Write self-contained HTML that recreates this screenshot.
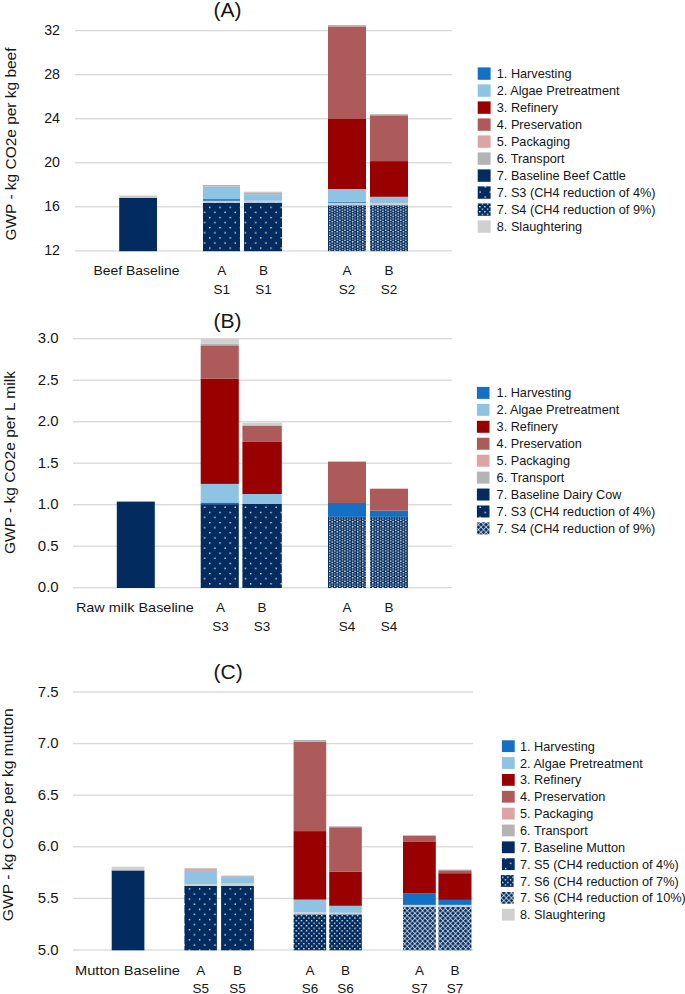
<!DOCTYPE html>
<html><head><meta charset="utf-8"><title>GWP charts</title>
<style>
html,body{margin:0;padding:0;background:#ffffff;}
body{width:685px;height:994px;overflow:hidden;}
svg{display:block;}
svg text{font-family:"Liberation Sans", sans-serif;fill:#161616;}
</style></head><body>
<svg width="685" height="994" viewBox="0 0 685 994">
<rect width="685" height="994" fill="#ffffff"/>
<defs><pattern id="p3A" patternUnits="userSpaceOnUse" width="10.2" height="10.2" x="5.15" y="2.65">
   <rect width="10.2" height="10.2" fill="#022c5f"/>
   <rect x="0" y="0" width="1.3" height="1.3" fill="#ffffff"/>
   <rect x="5.1" y="5.1" width="1.3" height="1.3" fill="#ffffff"/>
 </pattern>
<pattern id="p3B" patternUnits="userSpaceOnUse" width="10.2" height="10.2" x="5.15" y="1.75">
   <rect width="10.2" height="10.2" fill="#022c5f"/>
   <rect x="0" y="0" width="1.3" height="1.3" fill="#ffffff"/>
   <rect x="5.1" y="5.1" width="1.3" height="1.3" fill="#ffffff"/>
 </pattern>
<pattern id="p3C" patternUnits="userSpaceOnUse" width="10.2" height="10.2" x="5.15" y="0.85">
   <rect width="10.2" height="10.2" fill="#022c5f"/>
   <rect x="0" y="0" width="1.3" height="1.3" fill="#ffffff"/>
   <rect x="5.1" y="5.1" width="1.3" height="1.3" fill="#ffffff"/>
 </pattern>
<pattern id="p4A" patternUnits="userSpaceOnUse" width="5.08" height="5.08" x="1.32" y="2.36">
   <rect width="5.08" height="5.08" fill="#022c5f"/>
   <rect x="0" y="0" width="1.4" height="1.4" fill="#ffffff"/>
   <rect x="0" y="2.54" width="1.4" height="1.4" fill="#ffffff" opacity="0.75"/>
   <rect x="2.54" y="1.27" width="1.4" height="1.4" fill="#ffffff" opacity="0.6"/>
   <rect x="2.54" y="3.81" width="1.4" height="1.4" fill="#ffffff" opacity="0.9"/>
 </pattern>
<pattern id="p4B" patternUnits="userSpaceOnUse" width="5.08" height="5.08" x="1.3" y="2.9">
   <rect width="5.08" height="5.08" fill="#022c5f"/>
   <rect x="0" y="0" width="1.4" height="1.4" fill="#ffffff"/>
   <rect x="0" y="2.54" width="1.4" height="1.4" fill="#ffffff" opacity="0.75"/>
   <rect x="2.54" y="1.27" width="1.4" height="1.4" fill="#ffffff" opacity="0.6"/>
   <rect x="2.54" y="3.81" width="1.4" height="1.4" fill="#ffffff" opacity="0.9"/>
 </pattern>
<pattern id="p6" patternUnits="userSpaceOnUse" width="5.1" height="5.1" x="2.35" y="4.55">
   <rect width="5.1" height="5.1" fill="#022c5f"/>
   <rect x="0" y="0" width="1.3" height="1.3" fill="#ffffff"/>
   <rect x="2.55" y="2.55" width="1.3" height="1.3" fill="#ffffff"/>
 </pattern>
<pattern id="p7" patternUnits="userSpaceOnUse" width="5.08" height="5.08" x="0.9" y="3.9">
   <rect width="5.08" height="5.08" fill="#d3dbe8"/>
   <path d="M-2.00,0.00 L0.00,-2.00 L2.00,0.00 L0.00,2.00 Z M3.08,0.00 L5.08,-2.00 L7.08,0.00 L5.08,2.00 Z M-2.00,5.08 L0.00,3.08 L2.00,5.08 L0.00,7.08 Z M3.08,5.08 L5.08,3.08 L7.08,5.08 L5.08,7.08 Z M0.54,2.54 L2.54,0.54 L4.54,2.54 L2.54,4.54 Z " fill="#022c5f"/>
 </pattern></defs>
<rect x="75.00" y="250.25" width="377.00" height="1.30" fill="#d9d9d9"/>
<text x="60.00" y="254.80" font-size="15" text-anchor="end"  textLength="15.8" lengthAdjust="spacingAndGlyphs">12</text>
<rect x="75.00" y="206.20" width="377.00" height="1.30" fill="#d9d9d9"/>
<text x="60.00" y="210.75" font-size="15" text-anchor="end"  textLength="15.8" lengthAdjust="spacingAndGlyphs">16</text>
<rect x="75.00" y="162.15" width="377.00" height="1.30" fill="#d9d9d9"/>
<text x="60.00" y="166.70" font-size="15" text-anchor="end"  textLength="15.8" lengthAdjust="spacingAndGlyphs">20</text>
<rect x="75.00" y="118.10" width="377.00" height="1.30" fill="#d9d9d9"/>
<text x="60.00" y="122.65" font-size="15" text-anchor="end"  textLength="15.8" lengthAdjust="spacingAndGlyphs">24</text>
<rect x="75.00" y="74.05" width="377.00" height="1.30" fill="#d9d9d9"/>
<text x="60.00" y="78.60" font-size="15" text-anchor="end"  textLength="15.8" lengthAdjust="spacingAndGlyphs">28</text>
<rect x="75.00" y="30.00" width="377.00" height="1.30" fill="#d9d9d9"/>
<text x="60.00" y="34.55" font-size="15" text-anchor="end"  textLength="15.8" lengthAdjust="spacingAndGlyphs">32</text>
<text x="227.40" y="16.70" font-size="21" text-anchor="middle" >(A)</text>
<text x="0" y="0" font-size="15" text-anchor="middle" textLength="193" lengthAdjust="spacingAndGlyphs" transform="translate(16.20,144.00) rotate(-90)">GWP - kg CO2e per kg beef</text>
<rect x="119.20" y="197.70" width="37.80" height="53.50" fill="#022c5f"/>
<rect x="119.20" y="195.50" width="37.80" height="2.20" fill="#d0d0d0"/>
<rect x="203.00" y="202.60" width="37.00" height="48.60" fill="url(#p3A)"/>
<rect x="203.00" y="200.80" width="37.00" height="1.80" fill="#d0d0d0"/>
<rect x="203.00" y="199.10" width="37.00" height="1.70" fill="#1470c4"/>
<rect x="203.00" y="186.60" width="37.00" height="12.50" fill="#8ec3e4"/>
<rect x="203.00" y="185.00" width="37.00" height="1.60" fill="#b4b4b4"/>
<rect x="244.00" y="202.60" width="38.00" height="48.60" fill="url(#p3A)"/>
<rect x="244.00" y="200.80" width="38.00" height="1.80" fill="#d0d0d0"/>
<rect x="244.00" y="194.10" width="38.00" height="6.70" fill="#8ec3e4"/>
<rect x="244.00" y="192.50" width="38.00" height="1.60" fill="#dca4a4"/>
<rect x="244.00" y="191.80" width="38.00" height="0.70" fill="#b4b4b4"/>
<rect x="328.00" y="205.20" width="38.00" height="46.00" fill="url(#p4A)"/>
<rect x="328.00" y="202.80" width="38.00" height="2.40" fill="#d0d0d0"/>
<rect x="328.00" y="201.70" width="38.00" height="1.10" fill="#1470c4"/>
<rect x="328.00" y="189.00" width="38.00" height="12.70" fill="#8ec3e4"/>
<rect x="328.00" y="119.00" width="38.00" height="70.00" fill="#990000"/>
<rect x="328.00" y="26.40" width="38.00" height="92.60" fill="#ac5a5a"/>
<rect x="328.00" y="25.10" width="38.00" height="1.30" fill="#b4b4b4"/>
<rect x="370.00" y="205.20" width="38.00" height="46.00" fill="url(#p4A)"/>
<rect x="370.00" y="203.10" width="38.00" height="2.10" fill="#d0d0d0"/>
<rect x="370.00" y="196.80" width="38.00" height="6.30" fill="#8ec3e4"/>
<rect x="370.00" y="161.10" width="38.00" height="35.70" fill="#990000"/>
<rect x="370.00" y="115.30" width="38.00" height="45.80" fill="#ac5a5a"/>
<rect x="370.00" y="114.20" width="38.00" height="1.10" fill="#b4b4b4"/>
<text x="136.40" y="274.90" font-size="13.5" text-anchor="middle"  textLength="86" lengthAdjust="spacingAndGlyphs">Beef Baseline</text>
<text x="221.80" y="274.90" font-size="13.5" text-anchor="middle" >A</text>
<text x="221.80" y="293.60" font-size="13.5" text-anchor="middle" >S1</text>
<text x="263.60" y="274.90" font-size="13.5" text-anchor="middle" >B</text>
<text x="263.60" y="293.60" font-size="13.5" text-anchor="middle" >S1</text>
<text x="347.00" y="274.90" font-size="13.5" text-anchor="middle" >A</text>
<text x="347.00" y="293.60" font-size="13.5" text-anchor="middle" >S2</text>
<text x="389.00" y="274.90" font-size="13.5" text-anchor="middle" >B</text>
<text x="389.00" y="293.60" font-size="13.5" text-anchor="middle" >S2</text>
<rect x="477.70" y="67.40" width="12.90" height="12.40" fill="#1470c4"/>
<text x="496.80" y="78.10" font-size="12.7" text-anchor="start" >1. Harvesting</text>
<rect x="477.70" y="84.40" width="12.90" height="12.40" fill="#8ec3e4"/>
<text x="496.80" y="95.10" font-size="12.7" text-anchor="start" >2. Algae Pretreatment</text>
<rect x="477.70" y="101.40" width="12.90" height="12.40" fill="#990000"/>
<text x="496.80" y="112.10" font-size="12.7" text-anchor="start" >3. Refinery</text>
<rect x="477.70" y="118.40" width="12.90" height="12.40" fill="#ac5a5a"/>
<text x="496.80" y="129.10" font-size="12.7" text-anchor="start" >4. Preservation</text>
<rect x="477.70" y="135.40" width="12.90" height="12.40" fill="#dca4a4"/>
<text x="496.80" y="146.10" font-size="12.7" text-anchor="start" >5. Packaging</text>
<rect x="477.70" y="152.40" width="12.90" height="12.40" fill="#b4b4b4"/>
<text x="496.80" y="163.10" font-size="12.7" text-anchor="start" >6. Transport</text>
<rect x="477.70" y="169.40" width="12.90" height="12.40" fill="#022c5f"/>
<text x="496.80" y="180.10" font-size="12.7" text-anchor="start" >7. Baseline Beef Cattle</text>
<rect x="477.70" y="186.40" width="12.90" height="12.40" fill="url(#p3A)"/>
<text x="496.80" y="197.10" font-size="12.7" text-anchor="start" >7. S3 (CH4 reduction of 4%)</text>
<rect x="477.70" y="203.40" width="12.90" height="12.40" fill="url(#p6)"/>
<text x="496.80" y="214.10" font-size="12.7" text-anchor="start" >7. S4 (CH4 reduction of 9%)</text>
<rect x="477.70" y="220.40" width="12.90" height="12.40" fill="#d0d0d0"/>
<text x="496.80" y="231.10" font-size="12.7" text-anchor="start" >8. Slaughtering</text>
<rect x="73.00" y="587.05" width="379.00" height="1.30" fill="#d9d9d9"/>
<text x="58.70" y="592.20" font-size="15" text-anchor="end" >0.0</text>
<rect x="73.00" y="545.55" width="379.00" height="1.30" fill="#d9d9d9"/>
<text x="58.70" y="550.70" font-size="15" text-anchor="end" >0.5</text>
<rect x="73.00" y="504.05" width="379.00" height="1.30" fill="#d9d9d9"/>
<text x="58.70" y="509.20" font-size="15" text-anchor="end" >1.0</text>
<rect x="73.00" y="462.55" width="379.00" height="1.30" fill="#d9d9d9"/>
<text x="58.70" y="467.70" font-size="15" text-anchor="end" >1.5</text>
<rect x="73.00" y="421.05" width="379.00" height="1.30" fill="#d9d9d9"/>
<text x="58.70" y="426.20" font-size="15" text-anchor="end" >2.0</text>
<rect x="73.00" y="379.55" width="379.00" height="1.30" fill="#d9d9d9"/>
<text x="58.70" y="384.70" font-size="15" text-anchor="end" >2.5</text>
<rect x="73.00" y="338.05" width="379.00" height="1.30" fill="#d9d9d9"/>
<text x="58.70" y="343.20" font-size="15" text-anchor="end" >3.0</text>
<text x="227.40" y="327.50" font-size="21" text-anchor="middle" >(B)</text>
<text x="0" y="0" font-size="15" text-anchor="middle" textLength="183" lengthAdjust="spacingAndGlyphs" transform="translate(14.50,462.60) rotate(-90)">GWP - kg CO2e per L milk</text>
<rect x="116.80" y="501.60" width="38.00" height="86.40" fill="#022c5f"/>
<rect x="200.70" y="504.20" width="38.10" height="83.80" fill="url(#p3B)"/>
<rect x="200.70" y="502.50" width="38.10" height="1.70" fill="#1470c4"/>
<rect x="200.70" y="483.90" width="38.10" height="18.60" fill="#8ec3e4"/>
<rect x="200.70" y="378.80" width="38.10" height="105.10" fill="#990000"/>
<rect x="200.70" y="345.30" width="38.10" height="33.50" fill="#ac5a5a"/>
<rect x="200.70" y="343.90" width="38.10" height="1.40" fill="#b4b4b4"/>
<rect x="200.70" y="338.60" width="38.10" height="5.30" fill="#d0d0d0"/>
<rect x="242.40" y="504.00" width="39.40" height="84.00" fill="url(#p3B)"/>
<rect x="242.40" y="494.00" width="39.40" height="10.00" fill="#8ec3e4"/>
<rect x="242.40" y="441.90" width="39.40" height="52.10" fill="#990000"/>
<rect x="242.40" y="425.50" width="39.40" height="16.40" fill="#ac5a5a"/>
<rect x="242.40" y="422.60" width="39.40" height="2.90" fill="#d0d0d0"/>
<rect x="328.00" y="516.90" width="38.00" height="71.10" fill="url(#p4B)"/>
<rect x="328.00" y="503.00" width="38.00" height="13.90" fill="#1470c4"/>
<rect x="328.00" y="461.60" width="38.00" height="41.40" fill="#ac5a5a"/>
<rect x="370.00" y="516.90" width="38.00" height="71.10" fill="url(#p4B)"/>
<rect x="370.00" y="510.60" width="38.00" height="6.30" fill="#1470c4"/>
<rect x="370.00" y="488.70" width="38.00" height="21.90" fill="#ac5a5a"/>
<text x="134.90" y="612.30" font-size="13.5" text-anchor="middle"  textLength="118" lengthAdjust="spacingAndGlyphs">Raw milk Baseline</text>
<text x="220.40" y="612.30" font-size="13.5" text-anchor="middle" >A</text>
<text x="220.40" y="631.00" font-size="13.5" text-anchor="middle" >S3</text>
<text x="262.00" y="612.30" font-size="13.5" text-anchor="middle" >B</text>
<text x="262.00" y="631.00" font-size="13.5" text-anchor="middle" >S3</text>
<text x="347.00" y="612.30" font-size="13.5" text-anchor="middle" >A</text>
<text x="347.00" y="631.00" font-size="13.5" text-anchor="middle" >S4</text>
<text x="389.00" y="612.30" font-size="13.5" text-anchor="middle" >B</text>
<text x="389.00" y="631.00" font-size="13.5" text-anchor="middle" >S4</text>
<rect x="476.90" y="386.90" width="12.60" height="12.00" fill="#1470c4"/>
<text x="496.60" y="397.40" font-size="12.7" text-anchor="start" >1. Harvesting</text>
<rect x="476.90" y="403.84" width="12.60" height="12.00" fill="#8ec3e4"/>
<text x="496.60" y="414.34" font-size="12.7" text-anchor="start" >2. Algae Pretreatment</text>
<rect x="476.90" y="420.78" width="12.60" height="12.00" fill="#990000"/>
<text x="496.60" y="431.28" font-size="12.7" text-anchor="start" >3. Refinery</text>
<rect x="476.90" y="437.72" width="12.60" height="12.00" fill="#ac5a5a"/>
<text x="496.60" y="448.22" font-size="12.7" text-anchor="start" >4. Preservation</text>
<rect x="476.90" y="454.66" width="12.60" height="12.00" fill="#dca4a4"/>
<text x="496.60" y="465.16" font-size="12.7" text-anchor="start" >5. Packaging</text>
<rect x="476.90" y="471.60" width="12.60" height="12.00" fill="#b4b4b4"/>
<text x="496.60" y="482.10" font-size="12.7" text-anchor="start" >6. Transport</text>
<rect x="476.90" y="488.54" width="12.60" height="12.00" fill="#022c5f"/>
<text x="496.60" y="499.04" font-size="12.7" text-anchor="start" >7. Baseline Dairy Cow</text>
<rect x="476.90" y="505.48" width="12.60" height="12.00" fill="url(#p3B)"/>
<text x="496.60" y="515.98" font-size="12.7" text-anchor="start" >7. S3 (CH4 reduction of 4%)</text>
<rect x="476.90" y="522.42" width="12.60" height="12.00" fill="url(#p7)"/>
<text x="496.60" y="532.92" font-size="12.7" text-anchor="start" >7. S4 (CH4 reduction of 9%)</text>
<rect x="73.00" y="949.35" width="400.00" height="1.30" fill="#d9d9d9"/>
<text x="58.70" y="954.50" font-size="15" text-anchor="end" >5.0</text>
<rect x="73.00" y="897.75" width="400.00" height="1.30" fill="#d9d9d9"/>
<text x="58.70" y="902.90" font-size="15" text-anchor="end" >5.5</text>
<rect x="73.00" y="846.15" width="400.00" height="1.30" fill="#d9d9d9"/>
<text x="58.70" y="851.30" font-size="15" text-anchor="end" >6.0</text>
<rect x="73.00" y="794.55" width="400.00" height="1.30" fill="#d9d9d9"/>
<text x="58.70" y="799.70" font-size="15" text-anchor="end" >6.5</text>
<rect x="73.00" y="742.95" width="400.00" height="1.30" fill="#d9d9d9"/>
<text x="58.70" y="748.10" font-size="15" text-anchor="end" >7.0</text>
<rect x="73.00" y="691.35" width="400.00" height="1.30" fill="#d9d9d9"/>
<text x="58.70" y="696.50" font-size="15" text-anchor="end" >7.5</text>
<text x="228.10" y="679.20" font-size="21" text-anchor="middle" >(C)</text>
<text x="0" y="0" font-size="15" text-anchor="middle" textLength="213" lengthAdjust="spacingAndGlyphs" transform="translate(13.00,814.80) rotate(-90)">GWP - kg CO2e per kg mutton</text>
<rect x="111.70" y="870.40" width="32.70" height="79.90" fill="#022c5f"/>
<rect x="111.70" y="866.70" width="32.70" height="3.70" fill="#d0d0d0"/>
<rect x="184.40" y="886.00" width="32.50" height="64.30" fill="url(#p3C)"/>
<rect x="184.40" y="884.00" width="32.50" height="2.00" fill="#d0d0d0"/>
<rect x="184.40" y="870.90" width="32.50" height="13.10" fill="#8ec3e4"/>
<rect x="184.40" y="868.90" width="32.50" height="2.00" fill="#dca4a4"/>
<rect x="184.40" y="868.20" width="32.50" height="0.70" fill="#b4b4b4"/>
<rect x="221.10" y="886.00" width="32.80" height="64.30" fill="url(#p3C)"/>
<rect x="221.10" y="883.50" width="32.80" height="2.50" fill="#d0d0d0"/>
<rect x="221.10" y="876.80" width="32.80" height="6.70" fill="#8ec3e4"/>
<rect x="221.10" y="875.60" width="32.80" height="1.20" fill="#b4b4b4"/>
<rect x="293.60" y="914.40" width="32.60" height="35.90" fill="url(#p6)"/>
<rect x="293.60" y="912.30" width="32.60" height="2.10" fill="#d0d0d0"/>
<rect x="293.60" y="899.60" width="32.60" height="12.70" fill="#8ec3e4"/>
<rect x="293.60" y="831.10" width="32.60" height="68.50" fill="#990000"/>
<rect x="293.60" y="741.60" width="32.60" height="89.50" fill="#ac5a5a"/>
<rect x="293.60" y="739.90" width="32.60" height="1.70" fill="#b4b4b4"/>
<rect x="329.20" y="914.40" width="32.60" height="35.90" fill="url(#p6)"/>
<rect x="329.20" y="912.80" width="32.60" height="1.60" fill="#d0d0d0"/>
<rect x="329.20" y="905.80" width="32.60" height="7.00" fill="#8ec3e4"/>
<rect x="329.20" y="871.80" width="32.60" height="34.00" fill="#990000"/>
<rect x="329.20" y="827.20" width="32.60" height="44.60" fill="#ac5a5a"/>
<rect x="329.20" y="826.30" width="32.60" height="0.90" fill="#b4b4b4"/>
<rect x="403.00" y="906.60" width="32.80" height="43.70" fill="url(#p7)"/>
<rect x="403.00" y="904.90" width="32.80" height="1.70" fill="#d0d0d0"/>
<rect x="403.00" y="893.20" width="32.80" height="11.70" fill="#1470c4"/>
<rect x="403.00" y="841.40" width="32.80" height="51.80" fill="#990000"/>
<rect x="403.00" y="835.90" width="32.80" height="5.50" fill="#ac5a5a"/>
<rect x="403.00" y="835.20" width="32.80" height="0.70" fill="#b4b4b4"/>
<rect x="438.40" y="906.60" width="33.10" height="43.70" fill="url(#p7)"/>
<rect x="438.40" y="904.90" width="33.10" height="1.70" fill="#d0d0d0"/>
<rect x="438.40" y="899.90" width="33.10" height="5.00" fill="#1470c4"/>
<rect x="438.40" y="873.20" width="33.10" height="26.70" fill="#990000"/>
<rect x="438.40" y="870.30" width="33.10" height="2.90" fill="#ac5a5a"/>
<rect x="438.40" y="869.60" width="33.10" height="0.70" fill="#b4b4b4"/>
<text x="127.50" y="974.90" font-size="13.5" text-anchor="middle"  textLength="105" lengthAdjust="spacingAndGlyphs">Mutton Baseline</text>
<text x="200.80" y="974.90" font-size="13.5" text-anchor="middle" >A</text>
<text x="200.80" y="993.00" font-size="13.5" text-anchor="middle" >S5</text>
<text x="237.60" y="974.90" font-size="13.5" text-anchor="middle" >B</text>
<text x="237.60" y="993.00" font-size="13.5" text-anchor="middle" >S5</text>
<text x="309.90" y="974.90" font-size="13.5" text-anchor="middle" >A</text>
<text x="309.90" y="993.00" font-size="13.5" text-anchor="middle" >S6</text>
<text x="345.50" y="974.90" font-size="13.5" text-anchor="middle" >B</text>
<text x="345.50" y="993.00" font-size="13.5" text-anchor="middle" >S6</text>
<text x="419.40" y="974.90" font-size="13.5" text-anchor="middle" >A</text>
<text x="419.40" y="993.00" font-size="13.5" text-anchor="middle" >S7</text>
<text x="455.00" y="974.90" font-size="13.5" text-anchor="middle" >B</text>
<text x="455.00" y="993.00" font-size="13.5" text-anchor="middle" >S7</text>
<rect x="501.90" y="740.30" width="12.80" height="11.80" fill="#1470c4"/>
<text x="520.00" y="750.70" font-size="12.7" text-anchor="start" >1. Harvesting</text>
<rect x="501.90" y="757.15" width="12.80" height="11.80" fill="#8ec3e4"/>
<text x="520.00" y="767.55" font-size="12.7" text-anchor="start" >2. Algae Pretreatment</text>
<rect x="501.90" y="774.00" width="12.80" height="11.80" fill="#990000"/>
<text x="520.00" y="784.40" font-size="12.7" text-anchor="start" >3. Refinery</text>
<rect x="501.90" y="790.85" width="12.80" height="11.80" fill="#ac5a5a"/>
<text x="520.00" y="801.25" font-size="12.7" text-anchor="start" >4. Preservation</text>
<rect x="501.90" y="807.70" width="12.80" height="11.80" fill="#dca4a4"/>
<text x="520.00" y="818.10" font-size="12.7" text-anchor="start" >5. Packaging</text>
<rect x="501.90" y="824.55" width="12.80" height="11.80" fill="#b4b4b4"/>
<text x="520.00" y="834.95" font-size="12.7" text-anchor="start" >6. Transport</text>
<rect x="501.90" y="841.40" width="12.80" height="11.80" fill="#022c5f"/>
<text x="520.00" y="851.80" font-size="12.7" text-anchor="start" >7. Baseline Mutton</text>
<rect x="501.90" y="858.25" width="12.80" height="11.80" fill="url(#p3C)"/>
<text x="520.00" y="868.65" font-size="12.7" text-anchor="start" >7. S5 (CH4 reduction of 4%)</text>
<rect x="500.80" y="875.10" width="12.80" height="11.80" fill="url(#p6)"/>
<text x="520.00" y="885.50" font-size="12.7" text-anchor="start" >7. S6 (CH4 reduction of 7%)</text>
<rect x="500.80" y="891.95" width="12.80" height="11.80" fill="url(#p7)"/>
<text x="520.00" y="902.35" font-size="12.7" text-anchor="start" >7. S6 (CH4 reduction of 10%)</text>
<rect x="501.90" y="908.80" width="12.80" height="11.80" fill="#d0d0d0"/>
<text x="520.00" y="919.20" font-size="12.7" text-anchor="start" >8. Slaughtering</text>
</svg>
</body></html>
